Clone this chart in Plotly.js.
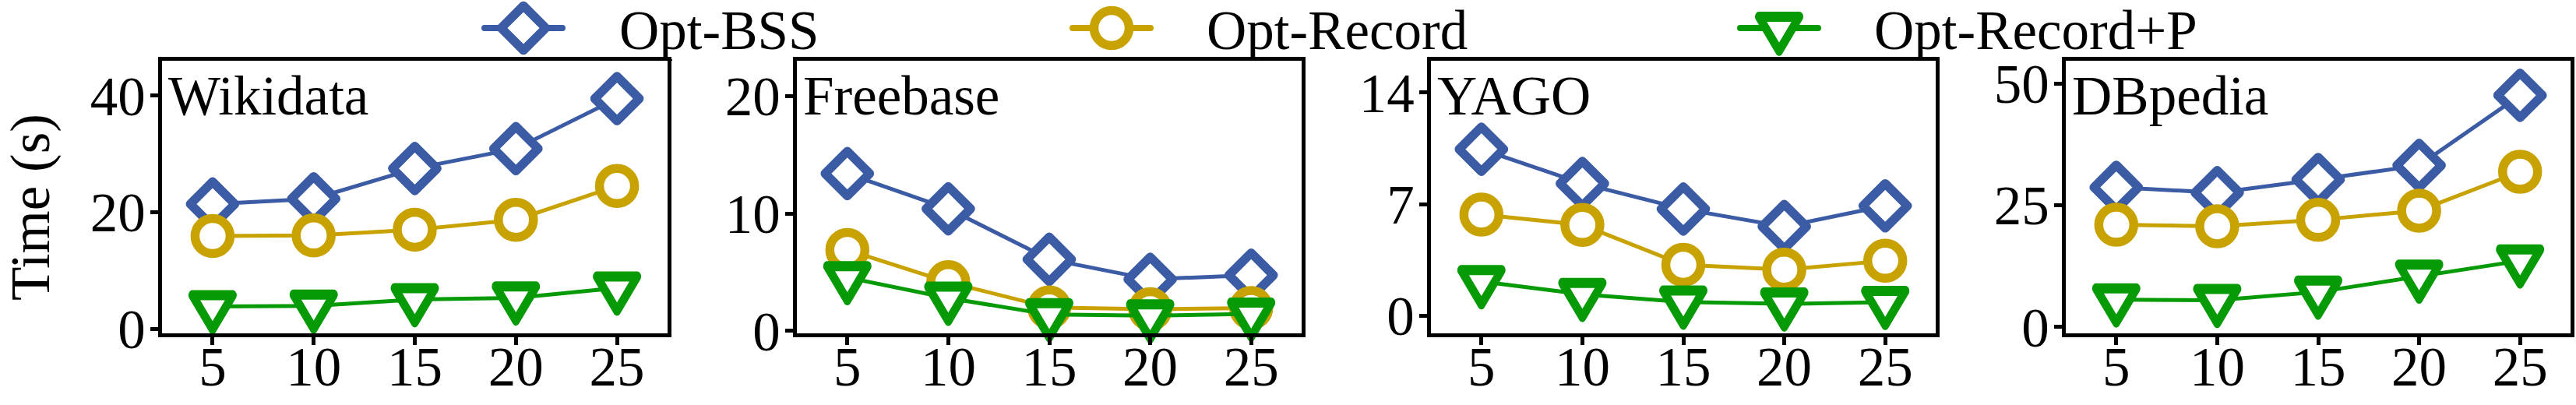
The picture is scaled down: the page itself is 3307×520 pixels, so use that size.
<!DOCTYPE html>
<html>
<head>
<meta charset="utf-8">
<script src="https://cdn.plot.ly/plotly-3.0.1.min.js"></script>
<style>html,body{margin:0;padding:0;background:#fff;}#chart{width:3307px;height:520px;}
.scatterlayer .points path, .legendpoints path { stroke-linejoin: round; }</style>
</head>
<body>
<div id="chart"></div>
<script>
// ---- data ----
const xVals = [5, 10, 15, 20, 25];
const datasets = ["Wikidata", "Freebase", "YAGO", "DBpedia"];
const seriesNames = ["Opt-BSS", "Opt-Record", "Opt-Record+P"];

const wikidataBSS = [21.4, 22.3, 27.5, 30.9, 39.5];
const wikidataRecord = [15.9, 16.0, 17.0, 18.7, 24.5];
const wikidataRecordP = [3.8, 3.9, 5.0, 5.3, 7.0];

const freebaseBSS = [13.4, 10.4, 6.1, 4.4, 4.75];
const freebaseRecord = [6.9, 4.15, 2.0, 1.85, 1.95];
const freebaseRecordP = [4.55, 2.8, 1.4, 1.3, 1.45];

const yagoBSS = [10.45, 8.3, 6.7, 5.6, 6.9];
const yagoRecord = [6.35, 5.7, 3.2, 2.9, 3.45];
const yagoRecordP = [2.15, 1.35, 0.87, 0.75, 0.85];

const dbpediaBSS = [28.7, 27.6, 30.3, 33.2, 47.6];
const dbpediaRecord = [21.0, 20.7, 22.0, 23.9, 31.9];
const dbpediaRecordP = [5.6, 5.5, 7.2, 10.5, 13.6];

const yTickVals = [[0, 20, 40], [0, 10, 20], [0, 7, 14], [0, 25, 50]];
const xTickVals = [5, 10, 15, 20, 25];
const yTitle = "Time (s)";

const panelSeries = [
  [wikidataBSS, wikidataRecord, wikidataRecordP],
  [freebaseBSS, freebaseRecord, freebaseRecordP],
  [yagoBSS, yagoRecord, yagoRecordP],
  [dbpediaBSS, dbpediaRecord, dbpediaRecordP]
];

// ---- styling / layout ----
const W = 3307, H = 520;
const FONT = "Liberation Serif, Times New Roman, serif";
const FS = 71;
const colors = ["#3B5BA5", "#C8A200", "#079A07"];
const symbols = ["diamond", "circle", "triangle-down"];
const msizes = [44, 45, 45];
const MLW = 11.5;
const TRI_STRETCH = 1.3;
const panelLeft = [208, 1023, 1837, 2652];
const panelRight = [857, 1671, 2485, 3300];
const plotTop = 78, plotBottom = 428;
const yRanges = [[-0.8, 46], [-0.2, 23], [-1.1, 16], [-1.3, 54.7]];
const legendIds = ["legend", "legend2", "legend3"];

const traces = [];
panelSeries.forEach((ser, p) => {
  ser.forEach((vals, s) => {
    traces.push({
      type: "scatter", mode: "lines+markers",
      x: xVals, y: vals, name: seriesNames[s],
      xaxis: p === 0 ? "x" : "x" + (p + 1),
      yaxis: p === 0 ? "y" : "y" + (p + 1),
      showlegend: p === 0,
      legend: legendIds[s],
      line: {color: colors[s], width: 5},
      marker: {symbol: symbols[s], size: msizes[s], color: "#ffffff",
               line: {color: colors[s], width: MLW}},
      cliponaxis: false
    });
  });
});

const layout = {
  width: W, height: H,
  margin: {l: 0, r: 0, t: 0, b: 0},
  paper_bgcolor: "#ffffff", plot_bgcolor: "#ffffff",
  font: {family: FONT, size: FS, color: "#000"},
  showlegend: true,
  annotations: []
};

const yDom = [(H - plotBottom) / H, (H - plotTop) / H];
for (let p = 0; p < 4; p++) {
  const xa = p === 0 ? "xaxis" : "xaxis" + (p + 1);
  const ya = p === 0 ? "yaxis" : "yaxis" + (p + 1);
  const xr = p === 0 ? "x" : "x" + (p + 1);
  const yr = p === 0 ? "y" : "y" + (p + 1);
  layout[xa] = {
    domain: [panelLeft[p] / W, panelRight[p] / W], anchor: yr,
    range: [2.5, 27.5], tickvals: xTickVals, ticktext: xTickVals.map(String),
    showline: true, mirror: true, linecolor: "#000", linewidth: 5,
    ticks: "outside", ticklen: 10, tickwidth: 5, tickcolor: "#000",
    ticklabelstandoff: -33,
    showgrid: false, zeroline: false,
    tickfont: {family: FONT, size: FS, color: "#000"}
  };
  layout[ya] = {
    domain: yDom, anchor: xr,
    range: yRanges[p], tickvals: yTickVals[p], ticktext: yTickVals[p].map(String),
    showline: true, mirror: true, linecolor: "#000", linewidth: 5,
    ticks: "outside", ticklen: 10, tickwidth: 5, tickcolor: "#000",
    ticklabelstandoff: -8,
    showgrid: false, zeroline: false,
    tickfont: {family: FONT, size: FS, color: "#000"}
  };
  if (p === 0) {
    layout[ya].title = {text: yTitle, font: {family: FONT, size: FS, color: "#000"}, standoff: 30};
  }
  layout.annotations.push({
    text: datasets[p], xref: xr + " domain", yref: yr + " domain",
    x: 0, y: 1, xanchor: "left", yanchor: "top", xshift: 7, yshift: -5,
    showarrow: false, borderpad: 0,
    font: {family: FONT, size: FS, color: "#000"}
  });
}

const legendTargets = [
  {cx: 672, cy: 36, tx: 795},
  {cx: 1427, cy: 36, tx: 1549},
  {cx: 2284, cy: 36, tx: 2406}
];
legendIds.forEach((id, i) => {
  layout[id] = {
    x: (legendTargets[i].tx - 41) / W, y: 1, xanchor: "left", yanchor: "top",
    orientation: "h", bgcolor: "rgba(0,0,0,0)", borderwidth: 0,
    font: {family: FONT, size: FS, color: "#000"}
  };
});

function fixLegend(id, t, i) {
  document.querySelectorAll("g." + id).forEach(g => {
    g.querySelectorAll("[clip-path]").forEach(e => e.removeAttribute("clip-path"));
    const line = g.querySelector(".legendlines path");
    const pt = g.querySelector(".legendpoints path");
    const layers = g.querySelector(".layers");
    const txt = g.querySelector("text." + id + "text");
    if (line) {
      line.setAttribute("d", "M-30,0h100");
      line.style.strokeWidth = "8px";
      line.style.strokeLinecap = "round";
    }
    if (pt) {
      const sc = msizes[i] / 16;
      const sy = symbols[i] === "triangle-down" ? sc * TRI_STRETCH : sc;
      pt.setAttribute("transform", "translate(20,0) scale(" + sc + "," + sy + ")");
      const lw = symbols[i] === "triangle-down" ? MLW / 1.15 : MLW;
      pt.style.strokeWidth = (lw / sc) + "px";
    }
    if (line && layers) {
      const r = line.getBoundingClientRect();
      const dx = t.cx - (r.left + r.width / 2);
      const dy = t.cy - (r.top + r.height / 2);
      layers.setAttribute("transform", "translate(" + dx + "," + dy + ")");
    }
    if (txt) {
      const r = txt.getBoundingClientRect();
      const dx = t.tx - r.left;
      const dy = 0 - r.top;
      txt.setAttribute("transform", "translate(" + dx + "," + dy + ")");
    }
  });
}

function stretchTriangles() {
  document.querySelectorAll(".scatterlayer .points path.point").forEach(p => {
    const d = p.getAttribute("d") || "";
    if (d.indexOf("H") >= 0 && d.indexOf("A") < 0) {
      const tf = p.getAttribute("transform") || "";
      p.setAttribute("transform", tf + " scale(1," + TRI_STRETCH + ")");
      p.style.strokeWidth = (MLW / 1.15) + "px";
    }
  });
}

Plotly.newPlot("chart", traces, layout, {staticPlot: true, displayModeBar: false}).then(() => {
  legendIds.forEach((id, i) => fixLegend(id, legendTargets[i], i));
  stretchTriangles();
  const yt = document.querySelector(".ytitle");
  if (yt) {
    const tf = yt.getAttribute("transform") || "";
    yt.setAttribute("transform", "translate(0,13) " + tf);
  }
});
</script>
</body>
</html>
